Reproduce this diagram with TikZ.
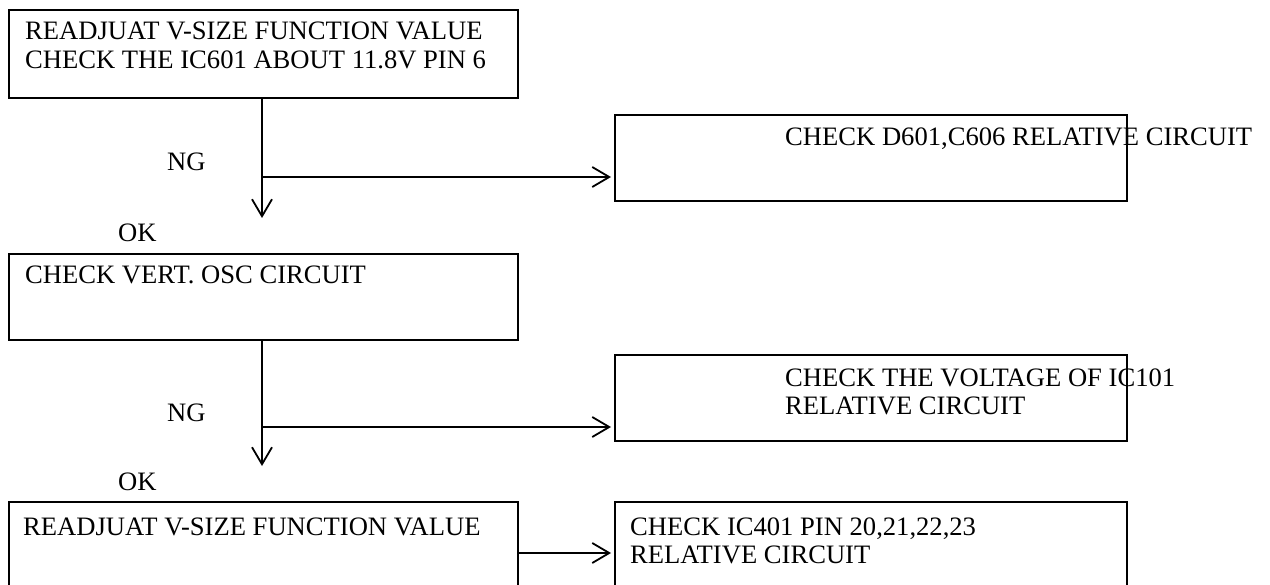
\documentclass[tikz,border=0pt]{standalone}
\usepackage{fontspec}
\setmainfont{Liberation Serif}
\usetikzlibrary{arrows.meta}
\begin{document}
\begin{tikzpicture}[x=1pt,y=-1pt,
  box/.style={draw,line width=1.8pt,anchor=north west,inner sep=0pt},
  txt/.style={anchor=base west,inner sep=0pt,font=\fontsize{26.6}{28}\selectfont},
  flow/.style={line width=1.8pt,-{Straight Barb[length=17pt,width=20pt,line width=1.8pt]}}]
  % page area
  \fill[white] (0,0) rectangle (1270,585);
  \useasboundingbox (0,0) rectangle (1270,585);
  \clip (0,0) rectangle (1270,585);

  % boxes
  \node[box,minimum width=509pt,minimum height=88pt] (b1) at (8,9) {};
  \node[box,minimum width=512pt,minimum height=86pt] (b2) at (614,114) {};
  \node[box,minimum width=509pt,minimum height=86pt] (b3) at (8,253) {};
  \node[box,minimum width=512pt,minimum height=86pt] (b4) at (614,354) {};
  \node[box,minimum width=509pt,minimum height=110pt] (b5) at (8,501) {};
  \node[box,minimum width=512pt,minimum height=110pt] (b6) at (614,501) {};

  % box texts
  \node[txt] (t1) at (25,40) {\begin{tabular}[t]{@{}l@{}}READJUAT V-SIZE FUNCTION VALUE\\[1pt]CHECK THE IC601 ABOUT 11.8V PIN 6\end{tabular}};
  \node[txt] (t2) at (785,146) {CHECK D601,C606 RELATIVE CIRCUIT};
  \node[txt] (t3) at (25,284) {CHECK VERT. OSC CIRCUIT};
  \node[txt] (t4) at (785,387) {\begin{tabular}[t]{@{}l@{}}CHECK THE VOLTAGE OF IC101\\RELATIVE CIRCUIT\end{tabular}};
  \node[txt] (t5) at (23,535) {READJUAT V-SIZE FUNCTION VALUE};
  \node[txt] (t6) at (630,535) {\begin{tabular}[t]{@{}l@{}}CHECK IC401 PIN 20,21,22,23\\RELATIVE CIRCUIT\end{tabular}};

  % branch labels
  \node[txt] (ng1) at (167,171) {NG};
  \node[txt] (ok1) at (118,242) {OK};
  \node[txt] (ng2) at (167,421) {NG};
  \node[txt] (ok2) at (118,490) {OK};

  % branch points and arrow ends
  \coordinate (e1) at (262,218);
  \coordinate (j1) at (262,177);
  \coordinate (e2) at (262,466);
  \coordinate (j2) at (262,427);
  \coordinate (j3) at (517,553);

  % connectors
  \draw[flow] (e1 |- b1.south) -- (e1);
  \draw[flow,shorten >=3pt] (j1) -- (j1 -| b2.west);
  \draw[flow] (e2 |- b3.south) -- (e2);
  \draw[flow,shorten >=3pt] (j2) -- (j2 -| b4.west);
  \draw[flow,shorten >=3pt] (j3 -| b5.east) -- (j3 -| b6.west);
\end{tikzpicture}
\end{document}
